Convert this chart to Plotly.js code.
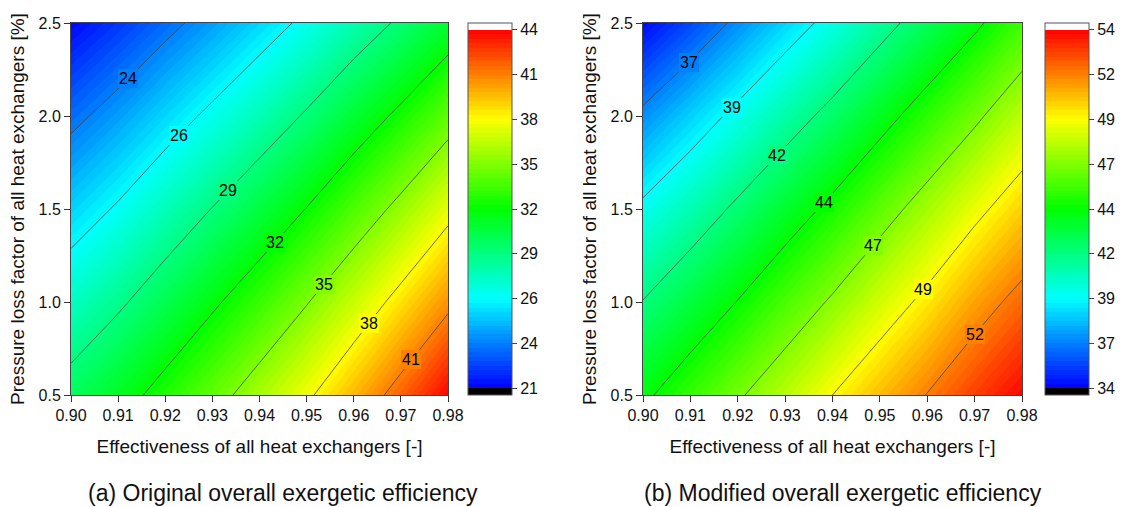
<!DOCTYPE html>
<html>
<head>
<meta charset="utf-8">
<script src="https://cdn.plot.ly/plotly-3.0.1.min.js"></script>
<style>
html,body{margin:0;padding:0;background:#fff;}
#chart{width:1126px;height:507px;}
</style>
</head>
<body>
<div id="chart"></div>
<script>
// ---- data ----
const effectiveness = [0.90, 0.91, 0.92, 0.93, 0.94, 0.95, 0.96, 0.97, 0.98];
const pressureLoss  = [0.5, 1.0, 1.5, 2.0, 2.5];

// (a) original overall exergetic efficiency, one row per pressure loss factor
const orig_p05 = [30.6, 31.9, 33.4, 34.9, 36.5, 38.2, 40.1, 42.1, 44.2];
const orig_p10 = [28.25, 29.5, 30.9, 32.4, 33.9, 35.5, 37.25, 39.1, 41.0];
const orig_p15 = [25.9, 27.1, 28.5, 29.85, 31.25, 32.75, 34.4, 36.1, 37.95];
const orig_p20 = [23.55, 24.7, 26.0, 27.3, 28.6, 30.0, 31.55, 33.1, 34.8];
const orig_p25 = [21.2, 22.3, 23.5, 24.7, 26.0, 27.3, 28.7, 30.1, 31.6];

// (b) modified overall exergetic efficiency
const mod_p05 = [44.6, 45.9, 47.2, 48.5, 49.9, 51.2, 52.45, 53.7, 54.8];
const mod_p10 = [42.45, 43.7, 44.95, 46.3, 47.6, 49.0, 50.3, 51.7, 52.9];
const mod_p15 = [40.2, 41.4, 42.7, 44.0, 45.3, 46.7, 48.1, 49.5, 50.8];
const mod_p20 = [37.7, 39.0, 40.3, 41.6, 42.9, 44.3, 45.7, 47.1, 48.6];
const mod_p25 = [35.0, 36.3, 37.7, 39.1, 40.4, 41.8, 43.2, 44.6, 46.1];

// contour / colour-bar levels and their printed labels
const origLevels   = [21.1, 24.0, 26.9, 29.8, 32.7, 35.6, 38.5, 41.4, 44.3];
const origTickText = ['21', '24', '26', '29', '32', '35', '38', '41', '44'];
const modLevels    = [34.9, 37.4, 39.9, 42.4, 44.9, 47.4, 49.9, 52.4, 54.9];
const modTickText  = ['34', '37', '39', '42', '44', '47', '49', '52', '54'];

const xTickText = ['0.90','0.91','0.92','0.93','0.94','0.95','0.96','0.97','0.98'];
const yTickText = ['0.5','1.0','1.5','2.0','2.5'];

const origZ = [orig_p05, orig_p10, orig_p15, orig_p20, orig_p25];
const modZ  = [mod_p05, mod_p10, mod_p15, mod_p20, mod_p25];

// ---- styling / placement ----
const FONT = 'Liberation Sans, Arial, sans-serif';
const W = 1126, H = 507;
// path (in axis units) along which the contour labels are placed
const origLabelPath = [[0.9105, 2.25], [0.9427, 1.333], [0.9740, 0.65]];
const modLabelPath  = [[0.9080, 2.33], [0.9365, 1.570], [0.9735, 0.75]];

function hexToRgb(h) {
  const n = parseInt(h.slice(1), 16);
  return [(n >> 16) & 255, (n >> 8) & 255, n & 255];
}
function csColor(cs, t) {
  for (let i = 0; i < cs.length - 1; i++) {
    const a = cs[i], b = cs[i + 1];
    if (t >= a[0] && t <= b[0]) {
      const u = b[0] === a[0] ? 0 : (t - a[0]) / (b[0] - a[0]);
      const ca = hexToRgb(a[1]), cb = hexToRgb(b[1]);
      const c = ca.map((v, k) => Math.round(v + (cb[k] - v) * u));
      return 'rgb(' + c.join(',') + ')';
    }
  }
  return cs[cs.length - 1][1];
}
function bilinear(z, x, y) {
  const xs = effectiveness, ys = pressureLoss;
  let i = 0, j = 0;
  while (i < xs.length - 2 && x > xs[i + 1]) i++;
  while (j < ys.length - 2 && y > ys[j + 1]) j++;
  const u = (x - xs[i]) / (xs[i + 1] - xs[i]);
  const v = (y - ys[j]) / (ys[j + 1] - ys[j]);
  return z[j][i] * (1 - u) * (1 - v) + z[j][i + 1] * u * (1 - v) +
         z[j + 1][i] * (1 - u) * v + z[j + 1][i + 1] * u * v;
}

function panel(z, levels, tickText, xa, ya, cbLeftPx, labelPath) {
  const n = levels.length;
  const step = levels[1] - levels[0];
  const fs = step / 10;
  const fillStart = levels[0] - fs;
  const fillEnd = levels[n - 1] + fs;
  const lo = fillStart - fs / 2, hi = fillEnd + fs / 2;
  const f = v => (v - lo) / (hi - lo);
  const L0 = levels[0], L1 = levels[n - 1], R = L1 - L0;
  const cs = [
    [0, '#000000'],
    [f(L0) - 0.0005, '#000000'],
    [f(L0), '#0000ff'],
    [f(L0 + 0.25 * R), '#00ffff'],
    [f(L0 + 0.5 * R), '#00ff00'],
    [f(L0 + 0.75 * R), '#ffff00'],
    [f(L1), '#ff0000'],
    [f(L1) + 0.0005, '#ffffff'],
    [1, '#ffffff']
  ];
  const fill = {
    type: 'contour', x: effectiveness, y: pressureLoss, z: z,
    xaxis: xa, yaxis: ya,
    autocontour: false,
    contours: {start: fillStart, end: fillEnd, size: fs, coloring: 'fill', showlines: false},
    line: {width: 0, smoothing: 0},
    colorscale: cs,
    hoverinfo: 'skip',
    colorbar: {
      x: cbLeftPx / W, xanchor: 'left', xref: 'paper',
      y: 1 - 395 / H, yanchor: 'bottom', yref: 'paper',
      len: 372 / H, lenmode: 'fraction',
      thickness: 44, thicknessmode: 'pixels',
      xpad: 0, ypad: 0,
      outlinewidth: 1, outlinecolor: '#555',
      ticks: 'outside', ticklen: 5, tickwidth: 1, tickcolor: '#444',
      tickmode: 'array', tickvals: levels, ticktext: tickText,
      tickfont: {family: FONT, size: 16, color: '#111'}
    }
  };
  const lines = {
    type: 'contour', x: effectiveness, y: pressureLoss, z: z,
    xaxis: xa, yaxis: ya,
    autocontour: false,
    contours: {start: levels[1], end: levels[n - 2], size: step, coloring: 'lines', showlabels: false},
    colorscale: [[0, '#454545'], [1, '#454545']],
    line: {width: 0.8, smoothing: 0},
    showscale: false,
    hoverinfo: 'skip'
  };

  // contour labels: where each drawn level crosses the label path
  const pts = [];
  for (let s = 0; s < labelPath.length - 1; s++) {
    const a = labelPath[s], b = labelPath[s + 1];
    for (let k = 0; k < 400; k++) {
      const t = k / 400;
      pts.push([a[0] + (b[0] - a[0]) * t, a[1] + (b[1] - a[1]) * t]);
    }
  }
  pts.push(labelPath[labelPath.length - 1]);
  const vals = pts.map(p => bilinear(z, p[0], p[1]));
  const anns = [];
  for (let li = 1; li < n - 1; li++) {
    const L = levels[li];
    for (let k = 0; k < pts.length - 1; k++) {
      if ((vals[k] - L) * (vals[k + 1] - L) <= 0 && vals[k] !== vals[k + 1]) {
        const t = (L - vals[k]) / (vals[k + 1] - vals[k]);
        anns.push({
          text: tickText[li],
          xref: xa, yref: ya,
          x: pts[k][0] + (pts[k + 1][0] - pts[k][0]) * t,
          y: pts[k][1] + (pts[k + 1][1] - pts[k][1]) * t,
          xanchor: 'center', yanchor: 'middle', showarrow: false,
          bgcolor: csColor(cs, f(L)), borderpad: 1, borderwidth: 0,
          font: {family: FONT, size: 16, color: '#000'}
        });
        break;
      }
    }
  }
  return {traces: [fill, lines], anns: anns};
}

const pa = panel(origZ, origLevels, origTickText, 'x', 'y', 468, origLabelPath);
const pb = panel(modZ, modLevels, modTickText, 'x2', 'y2', 1045, modLabelPath);
const data = [...pa.traces, ...pb.traces];

function xAxis(l, r, anchor) {
  return {
    domain: [l / W, r / W], anchor: anchor,
    range: [0.90, 0.98], tickmode: 'array', tickvals: effectiveness, ticktext: xTickText,
    ticks: 'outside', ticklen: 6, tickwidth: 1, tickcolor: '#333',
    showline: true, mirror: true, linecolor: '#444', linewidth: 1,
    showgrid: false, zeroline: false,
    tickfont: {family: FONT, size: 16, color: '#111'},
    title: {text: 'Effectiveness of all heat exchangers [-]', font: {family: FONT, size: 19, color: '#111'}, standoff: 16}
  };
}
function yAxis(anchor) {
  return {
    domain: [1 - 395 / H, 1 - 23 / H], anchor: anchor,
    range: [0.5, 2.5], tickmode: 'array', tickvals: pressureLoss, ticktext: yTickText,
    ticks: 'outside', ticklen: 6, tickwidth: 1, tickcolor: '#333',
    showline: true, mirror: true, linecolor: '#444', linewidth: 1,
    showgrid: false, zeroline: false,
    tickfont: {family: FONT, size: 16, color: '#111'},
    title: {text: 'Pressure loss factor of all heat exchangers [%]', font: {family: FONT, size: 19, color: '#111'}, standoff: 8}
  };
}

const layout = {
  width: W, height: H, autosize: false,
  margin: {l: 0, r: 0, t: 0, b: 0},
  paper_bgcolor: '#fff', plot_bgcolor: '#fff',
  font: {family: FONT, color: '#111'},
  showlegend: false,
  xaxis: xAxis(71, 448, 'y'),
  yaxis: yAxis('x'),
  xaxis2: xAxis(643, 1022, 'y2'),
  yaxis2: yAxis('x2'),
  annotations: [
    ...pa.anns, ...pb.anns,
    {text: '(a) Original overall exergetic efficiency', xref: 'paper', yref: 'paper',
     x: 283 / W, y: 1 - 493 / H, xanchor: 'center', yanchor: 'middle', showarrow: false,
     font: {family: FONT, size: 23, color: '#111'}},
    {text: '(b) Modified overall exergetic efficiency', xref: 'paper', yref: 'paper',
     x: 843 / W, y: 1 - 493 / H, xanchor: 'center', yanchor: 'middle', showarrow: false,
     font: {family: FONT, size: 23, color: '#111'}}
  ]
};

Plotly.newPlot(document.getElementById('chart'), data, layout, {displayModeBar: false, staticPlot: true});
</script>
</body>
</html>
